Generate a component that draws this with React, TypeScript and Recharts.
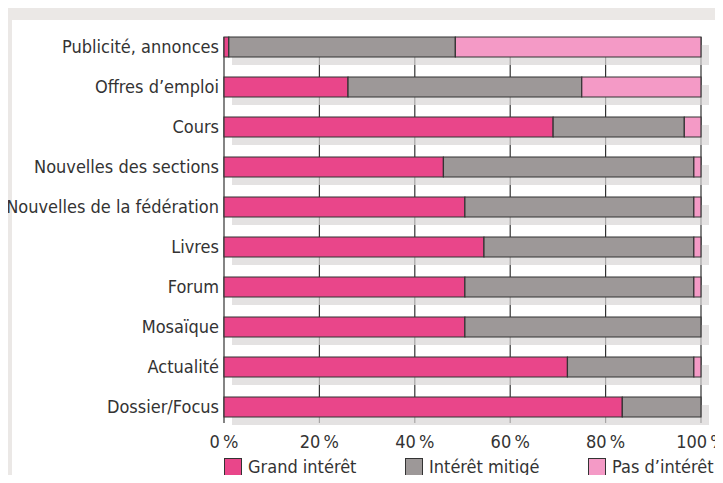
import React from 'react';
import { BarChart, Bar, XAxis, YAxis, CartesianGrid } from 'recharts';

const CATEGORIES = [
  'Publicité, annonces',
  'Offres d’emploi',
  'Cours',
  'Nouvelles des sections',
  'Nouvelles de la fédération',
  'Livres',
  'Forum',
  'Mosaïque',
  'Actualité',
  'Dossier/Focus',
];

const GRAND = [1, 26, 69, 46, 50.5, 54.5, 50.5, 50.5, 72, 83.5];
const MITIGE = [47.5, 49, 27.5, 52.5, 48, 44, 48, 49.5, 26.5, 16.5];
const PAS = [51.5, 25, 3.5, 1.5, 1.5, 1.5, 1.5, 0, 1.5, 0];

const X_TICKS = [0, 20, 40, 60, 80, 100];

const SERIES = [
  { key: 'grand', name: 'Grand intérêt', color: '#e9468a' },
  { key: 'mitige', name: 'Intérêt mitigé', color: '#9d9898' },
  { key: 'pas', name: 'Pas d’intérêt', color: '#f49ac6' },
];

const data = CATEGORIES.map((name, i) => ({
  name,
  grand: GRAND[i],
  mitige: MITIGE[i],
  pas: PAS[i],
}));

const FONT = '"DejaVu Sans Condensed", Roboto, sans-serif';
const FONT_SIZE = 18;
const TEXT = '#333';

// drop shadow behind each stacked bar
const Shadow = (props: any) => {
  const { x, y, width, height } = props;
  return <rect x={x + 8} y={y + 8} width={width} height={height} fill="#d9d5d5" opacity={0.7} />;
};

const App: React.FC = () => {
  const legendX = [224, 405, 588];
  return (
    <div style={{ position: 'relative', width: 723, height: 483, margin: -8, background: '#ebe8e6', overflow: 'hidden' }}>
      <div style={{ position: 'absolute', left: 12, top: 20, right: 0, bottom: 0, background: '#fff' }} />
      <div style={{ position: 'absolute', left: 0, top: 0 }}>
        <BarChart
          width={723}
          height={483}
          data={data}
          layout="vertical"
          barSize={20}
          margin={{ top: 27, right: 22, bottom: 26, left: 0 }}
        >
          <CartesianGrid horizontal={false} stroke={TEXT} strokeWidth={1.2} y={37} height={386} />
          <XAxis
            type="number"
            domain={[0, 100]}
            ticks={X_TICKS}
            axisLine={false}
            tickLine={false}
            tickFormatter={(v) => `${v}\u2009%`}
            tick={{ fill: TEXT, fontSize: FONT_SIZE, fontFamily: FONT }}
            interval={0}
            height={30}
          />
          <YAxis
            type="category"
            dataKey="name"
            width={224}
            axisLine={false}
            tickLine={false}
            tickSize={0}
            tickMargin={5}
            interval={0}
            tick={{ fill: TEXT, fontSize: FONT_SIZE, fontFamily: FONT }}
          />
          {SERIES.map((s, i) => (
            <Bar
              key={s.key}
              dataKey={s.key}
              name={s.name}
              stackId="a"
              fill={s.color}
              stroke={TEXT}
              strokeWidth={1.2}
              background={i === 0 ? Shadow : undefined}
              isAnimationActive={false}
            />
          ))}
        </BarChart>
      </div>
      {SERIES.map((s, i) => (
        <div
          key={s.key}
          style={{
            position: 'absolute',
            left: legendX[i],
            top: 455,
            height: 24,
            lineHeight: '24px',
            display: 'flex',
            alignItems: 'center',
            whiteSpace: 'nowrap',
            fontFamily: FONT,
            fontSize: FONT_SIZE,
            color: TEXT,
          }}
        >
          <span
            style={{
              display: 'inline-block',
              width: 16,
              height: 17,
              background: s.color,
              border: `1.5px solid ${TEXT}`,
              marginRight: 6,
            }}
          />
          {s.name}
        </div>
      ))}
    </div>
  );
};

export default App;
